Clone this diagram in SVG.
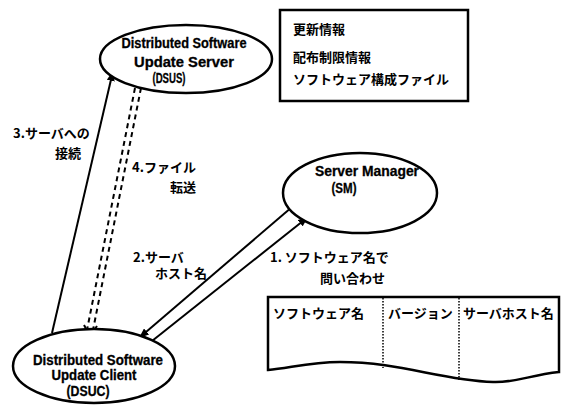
<svg xmlns="http://www.w3.org/2000/svg" width="561" height="406" viewBox="0 0 561 406">
  <style>
    .node { fill: #fff; stroke: #000; stroke-width: 2.5; }
    .en { font-family: "Liberation Sans", Arial, sans-serif; font-weight: bold; font-size: 14px; fill: #000; stroke: #000; stroke-width: 0.3; text-anchor: middle; }
    .jp { font-family: "Noto Sans CJK JP", "Noto Sans", sans-serif; font-weight: bold; font-size: 13px; fill: #000; }
    .line { fill: none; stroke: #000; stroke-width: 2; }
    .dash { fill: none; stroke: #000; stroke-width: 2; stroke-dasharray: 5 4; }
    .dot { fill: none; stroke: #000; stroke-width: 1.5; stroke-dasharray: 1.5 1.5; }
  </style>
  <defs>
    <marker id="head" viewBox="0 0 10 8" refX="10" refY="4" markerWidth="10" markerHeight="8" markerUnits="userSpaceOnUse" orient="auto">
      <path d="M0,0 L10,4 L0,8 Z" fill="#000"/>
    </marker>
  </defs>

  <rect width="561" height="406" fill="#fff"/>

  <!-- information box -->
  <g id="info">
    <rect x="280" y="10" width="188" height="91" fill="#fff" stroke="#000" stroke-width="2.5"/>
    <text class="jp" x="293" y="34">更新情報</text>
    <text class="jp" x="293" y="62">配布制限情報</text>
    <text class="jp" x="293" y="84">ソフトウェア構成ファイル</text>
  </g>

  <!-- connectors -->
  <g id="connectors">
    <!-- 3: DSUC to DSUS -->
    <line class="line" x1="52" y1="333" x2="113" y2="71" marker-end="url(#head)"/>
    <!-- 4: file transfer, double dashed -->
    <line class="dash" x1="135" y1="88" x2="87" y2="330"/>
    <line class="dash" x1="141" y1="88" x2="93" y2="330"/>
    <path class="line" d="M84,325 L90,336 L97,326"/>
    <!-- 2: SM to DSUC -->
    <line class="line" x1="292" y1="207" x2="139" y2="338" marker-end="url(#head)"/>
    <!-- 1: DSUC to SM -->
    <line class="line" x1="152" y1="341" x2="308" y2="217" marker-end="url(#head)"/>
    <text class="jp" x="13" y="138">3.サーバへの</text>
    <text class="jp" x="55" y="158">接続</text>
    <text class="jp" x="132" y="172">4.ファイル</text>
    <text class="jp" x="170" y="192">転送</text>
    <text class="jp" x="133" y="262">2.サーバ</text>
    <text class="jp" x="155" y="278">ホスト名</text>
    <text class="jp" x="270" y="262">1. ソフトウェア名で</text>
    <text class="jp" x="320" y="283">問い合わせ</text>
  </g>

  <g id="dsus">
    <ellipse class="node" cx="186" cy="59" rx="86" ry="34"/>
    <text class="en" x="184" y="48" textLength="125" lengthAdjust="spacingAndGlyphs">Distributed Software</text>
    <text class="en" x="184" y="67" textLength="100" lengthAdjust="spacingAndGlyphs">Update Server</text>
    <text class="en" x="169" y="83" textLength="33" lengthAdjust="spacingAndGlyphs">(DSUS)</text>
  </g>

  <g id="sm">
    <ellipse class="node" cx="360" cy="193" rx="77" ry="40"/>
    <text class="en" x="367" y="176" textLength="104" lengthAdjust="spacingAndGlyphs">Server Manager</text>
    <text class="en" x="344" y="193" textLength="25" lengthAdjust="spacingAndGlyphs">(SM)</text>
  </g>

  <g id="dsuc">
    <ellipse class="node" cx="94" cy="366" rx="81" ry="37"/>
    <text class="en" x="98" y="365" textLength="130" lengthAdjust="spacingAndGlyphs">Distributed Software</text>
    <text class="en" x="94" y="380" textLength="85" lengthAdjust="spacingAndGlyphs">Update Client</text>
    <text class="en" x="88" y="396" textLength="43" lengthAdjust="spacingAndGlyphs">(DSUC)</text>
  </g>

  <!-- software table -->
  <g id="table">
    <path d="M268,297 L559,297 L559,372 C530,375 515,383 493,382 C440,380 400,362 340,362 C310,362 290,368 268,370 Z" fill="#fff" stroke="#000" stroke-width="2.5"/>
    <line class="dot" x1="383" y1="298" x2="383" y2="368"/>
    <line class="dot" x1="459" y1="298" x2="459" y2="380"/>
    <text class="jp" x="273" y="318" font-size="13.5">ソフトウェア名</text>
    <text class="jp" x="388" y="318" font-size="13.5">バージョン</text>
    <text class="jp" x="463" y="318" font-size="13.5">サーバホスト名</text>
  </g>
</svg>
